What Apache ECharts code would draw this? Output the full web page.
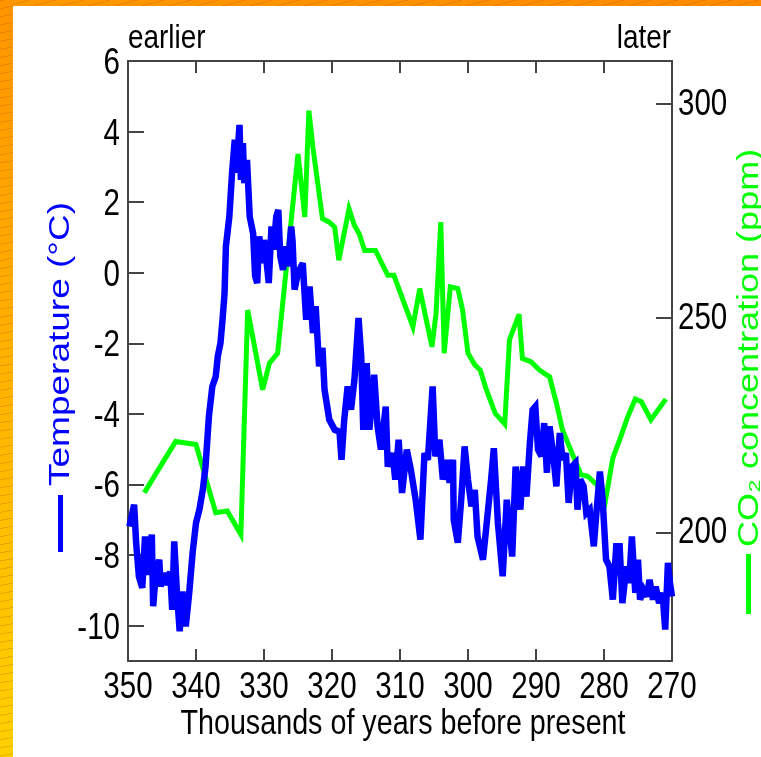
<!DOCTYPE html>
<html>
<head>
<meta charset="utf-8">
<script src="https://cdn.jsdelivr.net/npm/echarts@6/dist/echarts.min.js"></script>
<style>
html,body{margin:0;padding:0;background:#fff;}
#frame{position:relative;width:761px;height:757px;overflow:hidden;background:#fff;}
#topbar{position:absolute;left:0;top:0;width:761px;height:6px;
  background:repeating-linear-gradient(165deg,rgba(170,80,0,0.25) 0 1px,transparent 1px 7px),linear-gradient(90deg,#ff9800,#ff8a00);}
#leftbar{position:absolute;left:0;top:0;width:13px;height:757px;
  background:repeating-linear-gradient(170deg,rgba(170,80,0,0.25) 0 1px,transparent 1px 8px),linear-gradient(180deg,#ff9400,#ffb000 45%,#ffd000);}
#chart{position:absolute;left:0;top:0;width:761px;height:757px;}
</style>
</head>
<body>
<div id="frame">
  <div id="topbar"></div>
  <div id="leftbar"></div>
  <div id="chart"></div>
</div>
<script>
// Temperature (deg C) vs thousands of years before present
const tempAge = [
  349.8,349.1,348.8,348.4,347.9,347.5,347.1,346.5,346.3,345.9,
  345.4,345.2,344.7,344.2,343.8,343.5,343.2,342.8,342.4,342.0,
  341.5,341.0,340.5,340.0,339.5,339.0,338.6,338.1,337.6,337.1,
  336.8,336.4,336.1,335.8,335.6,335.1,334.7,334.3,334.1,333.6,
  333.4,333.1,332.9,332.5,332.1,331.6,331.3,331.0,330.7,330.3,
  330.0,329.7,329.3,328.9,328.6,328.2,327.9,327.6,327.2,326.9,
  326.5,326.0,325.8,325.5,325.0,324.3,323.8,323.3,322.8,322.4,
  321.9,321.4,321.1,320.4,319.6,318.9,318.6,318.2,317.7,317.2,
  316.7,316.1,315.7,315.4,314.9,314.5,313.8,313.3,312.8,312.1,
  311.8,311.1,310.7,310.2,309.7,309.0,308.4,307.7,307.0,306.4,
  305.9,305.2,304.8,304.2,303.7,303.1,302.7,302.2,302.1,301.5,
  301.0,300.5,300.0,299.5,299.0,298.6,297.8,297.2,296.6,296.2,
  295.6,294.9,294.3,293.5,293.0,292.3,291.9,291.4,290.9,290.5,
  290.1,289.7,289.2,288.8,288.4,288.0,287.5,287.0,286.5,286.1,
  285.6,285.2,284.7,284.2,283.9,283.5,283.0,282.6,282.1,281.5,
  281.2,280.6,280.2,279.7,279.2,278.7,278.2,277.7,277.3,276.7,
  276.3,275.9,275.4,275.0,274.7,274.2,273.7,273.3,272.8,272.4,
  271.9,271.4,271.0,270.6,270.3,270.0
];
const tempC = [
  -7.19,-6.57,-7.66,-8.60,-8.93,-7.47,-8.56,-7.42,-9.45,-8.51,
  -8.13,-8.89,-8.51,-8.84,-8.46,-9.55,-7.61,-9.07,-10.16,-9.03,
  -10.02,-9.07,-7.94,-7.09,-6.71,-6.15,-5.49,-4.07,-3.22,-2.94,
  -2.37,-1.99,-1.33,-0.58,0.75,1.59,2.82,3.77,2.83,4.19,
  2.63,3.67,2.54,3.20,1.59,1.12,-0.10,-0.29,1.03,0.27,
  0.93,0.46,-0.29,1.31,0.65,1.59,1.78,0.46,0.08,0.75,
  0.18,1.31,0.90,-0.48,0.00,0.27,-1.33,-0.39,-1.71,-0.95,
  -2.65,-2.13,-3.31,-4.16,-4.45,-4.50,-5.30,-4.16,-3.22,-3.88,
  -3.03,-1.28,-2.37,-4.45,-2.56,-4.45,-2.89,-4.35,-5.01,-3.79,
  -5.49,-5.11,-5.86,-4.73,-6.24,-5.01,-5.58,-6.43,-7.56,-5.11,
  -5.30,-3.22,-5.20,-4.73,-5.86,-5.30,-5.95,-5.30,-7.00,-7.65,
  -6.43,-4.92,-5.86,-6.62,-6.15,-7.47,-8.13,-7.00,-5.86,-4.97,
  -7.09,-8.60,-6.43,-8.04,-5.49,-6.71,-5.49,-6.34,-4.82,-3.88,
  -3.79,-5.01,-5.20,-4.26,-5.67,-4.35,-5.11,-6.05,-4.54,-5.30,
  -5.11,-6.52,-5.49,-5.39,-6.71,-5.86,-6.05,-6.81,-6.71,-7.75,
  -7.00,-5.63,-6.43,-8.13,-8.32,-9.26,-7.75,-7.75,-9.36,-8.32,
  -8.79,-7.47,-9.07,-8.13,-9.26,-8.98,-9.17,-8.70,-9.26,-8.89,
  -9.36,-9.07,-10.11,-8.22,-8.79,-9.17
];
// CO2 concentration (ppm)
const co2Age = [
  347.6,344.9,343.0,340.0,337.1,335.4,333.4,332.4,330.2,329.2,
  328.0,325.0,324.0,323.4,322.8,321.4,320.4,319.6,319.0,317.5,
  316.7,316.0,315.2,313.6,311.8,310.9,308.1,307.1,305.3,304.7,
  304.0,303.5,302.6,301.5,300.8,300.0,299.0,298.2,297.3,296.0,
  294.6,293.9,292.5,292.0,290.7,289.5,288.0,287.0,286.1,284.6,
  283.4,282.4,281.1,279.8,278.7,277.7,276.5,275.4,274.5,273.1,
  270.9
];
const co2Ppm = [
  209.3,216.3,221.2,220.5,204.6,205.0,199.5,251.9,233.3,239.5,
  241.8,288.3,273.6,298.4,289.8,273.2,272.4,271.2,263.5,275.5,
  271.6,269.7,265.8,265.8,260.0,260.0,248.0,256.9,243.3,251.1,
  272.4,241.8,257.3,256.9,251.9,241.8,239.1,237.9,233.3,227.8,
  225.3,244.9,250.9,240.6,239.8,237.9,236.3,230.2,223.9,218.1,
  213.5,213.1,211.2,207.3,217.4,221.6,227.0,231.1,230.5,226.3,
  231.1
];
const ageTicks = [350,340,330,320,310,300,290,280,270];
const tempTicks = [-10,-8,-6,-4,-2,0,2,4,6];
const co2Ticks = [200,250,300];
const xTitle = 'Thousands of years before present';
const tempTitle = 'Temperature (°C)';
const co2Title = 'CO₂ concentration (ppm)';
const leftNote = 'earlier';
const rightNote = 'later';

const SANS = "'Liberation Sans',Arial,Helvetica,sans-serif";
const SQ = 0.82;           // horizontal squeeze of the original lettering
const AX = '#444444';

const tempData = tempAge.map((a, i) => [a, tempC[i]]);
const co2Data = co2Age.map((a, i) => [a, co2Ppm[i]]);

const chart = echarts.init(document.getElementById('chart'), null, {renderer: 'canvas'});
const axisLine = {show: true, onZero: false, lineStyle: {color: AX, width: 2}};
const tick = (len, vals) => ({show: true, inside: true, length: len, customValues: vals, lineStyle: {color: AX, width: 2}});
chart.setOption({
  animation: false,
  backgroundColor: 'transparent',
  grid: {left: 128, top: 61, width: 544, height: 600, containLabel: false},
  xAxis: [{
    type: 'value', min: 270, max: 350, interval: 10, inverse: true, position: 'bottom',
    axisLine: axisLine, axisTick: tick(12, ageTicks),
    axisLabel: {show: false}, splitLine: {show: false}
  }, {
    type: 'value', min: 270, max: 350, interval: 10, inverse: true, position: 'top',
    axisLine: axisLine, axisTick: tick(12, ageTicks),
    axisLabel: {show: false}, splitLine: {show: false}
  }],
  yAxis: [{
    type: 'value', min: -11, max: 6, position: 'left',
    axisLine: axisLine, axisTick: tick(16, tempTicks),
    axisLabel: {show: false}, splitLine: {show: false}
  }, {
    type: 'value', min: 170, max: 310, position: 'right',
    axisLine: axisLine, axisTick: tick(16, co2Ticks),
    axisLabel: {show: false}, splitLine: {show: false}
  }],
  series: [{
    name: 'CO2', type: 'line', xAxisIndex: 0, yAxisIndex: 1, data: co2Data,
    showSymbol: false, symbol: 'none', z: 2,
    lineStyle: {color: '#00ff00', width: 5, join: 'miter', miterLimit: 4}
  }, {
    name: 'Temperature', type: 'line', xAxisIndex: 0, yAxisIndex: 0, data: tempData,
    showSymbol: false, symbol: 'none', z: 3,
    lineStyle: {color: '#0000ff', width: 6.5, join: 'miter', miterLimit: 3}
  }]
});

// Narrow (squeezed) tick labels and titles, placed through the axes' own scales
const px = v => chart.convertToPixel({xAxisIndex: 0}, v);
const pyT = v => chart.convertToPixel({yAxisIndex: 0}, v);
const pyC = v => chart.convertToPixel({yAxisIndex: 1}, v);
const plotL = px(350), plotR = px(270), plotB = pyT(-11), plotT = pyT(6);
const txt = (text, x, y, size, align, vAlign, fill) => ({
  type: 'text', x: x, y: y, scaleX: SQ, silent: true,
  style: {text: text, fill: fill || '#000', font: size + 'px ' + SANS, align: align, verticalAlign: vAlign}
});
const g = [];
ageTicks.forEach(v => g.push(txt(String(v), px(v), plotB + 9, 36, 'center', 'top')));
tempTicks.forEach(v => g.push(txt(String(v), plotL - 8, pyT(v) + 3, 36, 'right', 'middle')));
co2Ticks.forEach(v => g.push(txt(String(v), plotR + 6, pyC(v) + 1, 36, 'left', 'middle')));
g.push(txt(xTitle, (plotL + plotR) / 2 + 3, plotB + 46, 35, 'center', 'top'));
g.push(txt(leftNote, plotL, plotT - 22, 34, 'left', 'middle'));
g.push(txt(rightNote, plotR - 1, plotT - 22, 34, 'right', 'middle'));
// axis titles with legend markers
g.push({type: 'rect', silent: true, shape: {x: 58, y: 495, width: 5, height: 57}, style: {fill: '#0000ff'}});
g.push({type: 'text', x: 61, y: 486, rotation: Math.PI / 2, scaleY: SQ, silent: true,
  style: {text: tempTitle, fill: '#0000ff', font: '37px ' + SANS, align: 'left', verticalAlign: 'middle'}});
g.push({type: 'rect', silent: true, shape: {x: 746, y: 554, width: 5, height: 60}, style: {fill: '#00ff00'}});
g.push({type: 'text', x: 750, y: 547, rotation: Math.PI / 2, scaleY: SQ, silent: true,
  style: {text: co2Title, fill: '#00ff00', font: '36px ' + SANS, align: 'left', verticalAlign: 'middle'}});
chart.setOption({graphic: g});
</script>
</body>
</html>
